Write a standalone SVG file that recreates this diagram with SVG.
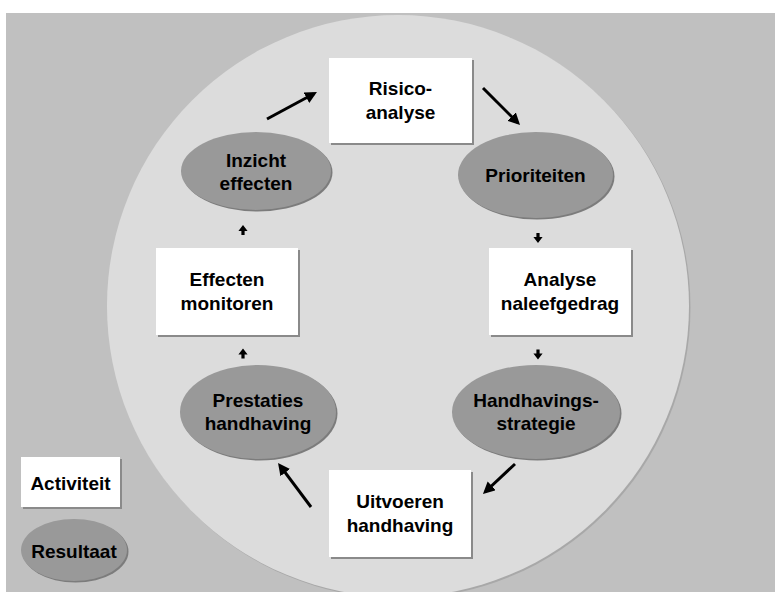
<svg xmlns="http://www.w3.org/2000/svg" xmlns:xlink="http://www.w3.org/1999/xlink" width="775" height="592" viewBox="0 0 775 592">
<style>
.box{fill:#ffffff}
.bsh{fill:#8a8a8a}
.ell{fill:#999999}
.esh{fill:#7c7c7c}
.t{font-family:"Liberation Sans",Arial,sans-serif;font-weight:bold;font-size:19px;fill:#000;text-anchor:middle}
.arr{stroke:#000;stroke-width:3;fill:none}
</style>
<defs>
<marker id="ah" viewBox="0 0 10 10" refX="7" refY="5" markerWidth="4" markerHeight="4" markerUnits="strokeWidth" orient="auto">
<path d="M0,0 L10,5 L0,10 z" fill="#000"/>
</marker>
<path id="sa" d="M-1.6,-5 h3.2 v4 h3 l-4.6,6 l-4.6,-6 h3 z" fill="#000"/>
</defs>
<rect x="6" y="13" width="769" height="579" fill="#c0c0c0"/>
<circle cx="399.5" cy="307.5" r="291" fill="#a8a8a8"/>
<circle cx="398" cy="306" r="291" fill="#dcdcdc"/>

<g id="connectors">
<line class="arr" x1="267" y1="119" x2="313.8" y2="93.7" marker-end="url(#ah)"/>
<line class="arr" x1="483" y1="88" x2="517.5" y2="122.5" marker-end="url(#ah)"/>
<line class="arr" x1="515" y1="464" x2="485.6" y2="491.5" marker-end="url(#ah)"/>
<line class="arr" x1="311" y1="507" x2="280.2" y2="465.9" marker-end="url(#ah)"/>
<use xlink:href="#sa" transform="translate(538,238)"/>
<use xlink:href="#sa" transform="translate(538,354.5)"/>
<use xlink:href="#sa" transform="translate(243,230) rotate(180)"/>
<use xlink:href="#sa" transform="translate(243,353.5) rotate(180)"/>
</g>

<g id="risico">
<rect class="bsh" x="331" y="60" width="143" height="85"/>
<rect class="box" x="329" y="58" width="143" height="85"/>
<text class="t" x="400.5" y="95">Risico-</text>
<text class="t" x="400.5" y="119">analyse</text>
</g>

<g id="prioriteiten">
<ellipse class="esh" cx="537" cy="176.5" rx="77.5" ry="43"/>
<ellipse class="ell" cx="535.5" cy="175" rx="77.5" ry="43"/>
<text class="t" x="535.5" y="182">Prioriteiten</text>
</g>

<g id="analyse">
<rect class="bsh" x="491" y="250" width="142" height="87"/>
<rect class="box" x="489" y="248" width="142" height="87"/>
<text class="t" x="560" y="286">Analyse</text>
<text class="t" x="560" y="310">naleefgedrag</text>
</g>

<g id="handhavingsstrategie">
<ellipse class="esh" cx="537.5" cy="413.5" rx="84" ry="47"/>
<ellipse class="ell" cx="536" cy="412" rx="84" ry="47"/>
<text class="t" x="536" y="407">Handhavings-</text>
<text class="t" x="536" y="430">strategie</text>
</g>

<g id="uitvoeren">
<rect class="bsh" x="331" y="472" width="142" height="87"/>
<rect class="box" x="329" y="470" width="142" height="87"/>
<text class="t" x="400" y="508">Uitvoeren</text>
<text class="t" x="400" y="532">handhaving</text>
</g>

<g id="prestaties">
<ellipse class="esh" cx="259.5" cy="413.5" rx="78" ry="47"/>
<ellipse class="ell" cx="258" cy="412" rx="78" ry="47"/>
<text class="t" x="258" y="407">Prestaties</text>
<text class="t" x="258" y="430">handhaving</text>
</g>

<g id="effecten">
<rect class="bsh" x="158" y="250" width="142" height="87"/>
<rect class="box" x="156" y="248" width="142" height="87"/>
<text class="t" x="227" y="286">Effecten</text>
<text class="t" x="227" y="310">monitoren</text>
</g>

<g id="inzicht">
<ellipse class="esh" cx="257.5" cy="172.5" rx="75" ry="39"/>
<ellipse class="ell" cx="256" cy="171" rx="75" ry="39"/>
<text class="t" x="256" y="167">Inzicht</text>
<text class="t" x="256" y="190">effecten</text>
</g>

<g id="legend-activiteit">
<rect class="bsh" x="23" y="459" width="99" height="50"/>
<rect class="box" x="21" y="457" width="99" height="50"/>
<text class="t" x="70.5" y="490">Activiteit</text>
</g>

<g id="legend-resultaat">
<ellipse class="esh" cx="75.5" cy="551.5" rx="53" ry="31"/>
<ellipse class="ell" cx="74" cy="550" rx="53" ry="31"/>
<text class="t" x="74" y="558">Resultaat</text>
</g>
</svg>
